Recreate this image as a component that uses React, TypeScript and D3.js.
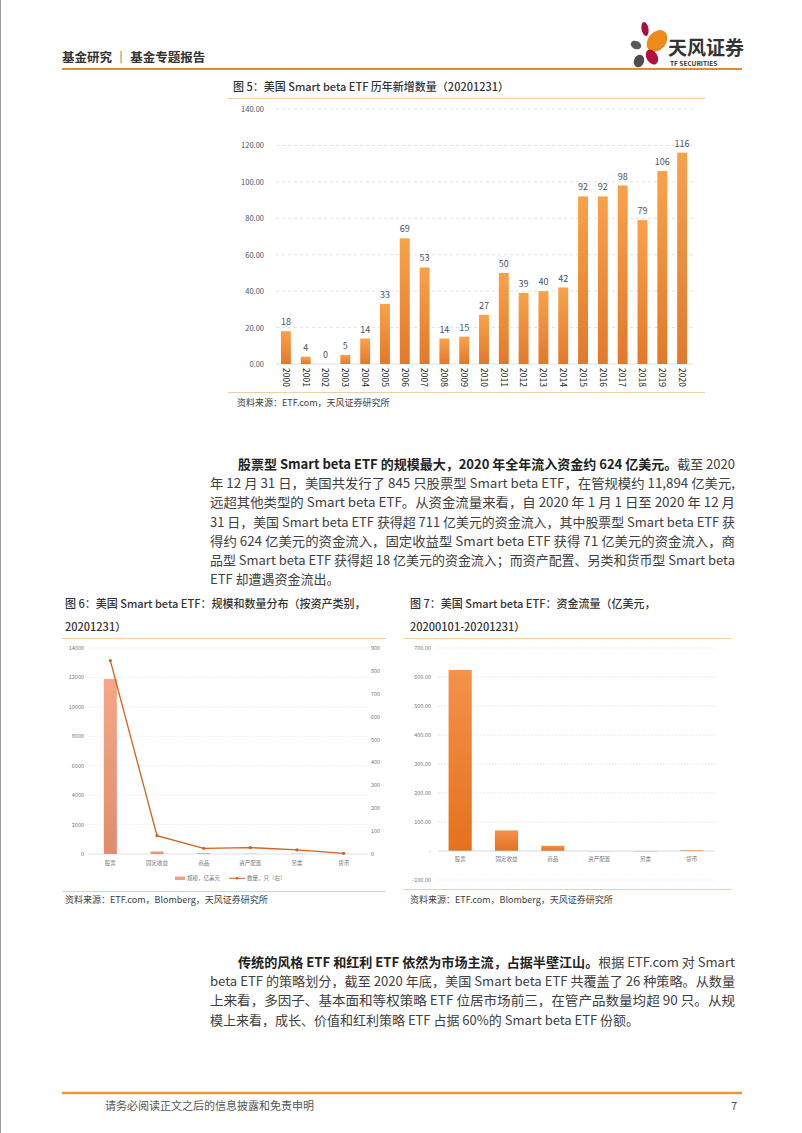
import React from 'react';
import * as d3 from 'd3';

// figure 5: yearly new smart beta ETFs
const years = ['2000','2001','2002','2003','2004','2005','2006','2007','2008','2009','2010','2011','2012','2013','2014','2015','2016','2017','2018','2019','2020'];
const newCounts = [18, 4, 0, 5, 14, 33, 69, 53, 14, 15, 27, 50, 39, 40, 42, 92, 92, 98, 79, 106, 116];
const fig5Ticks = [0, 20, 40, 60, 80, 100, 120, 140];

// figure 6: AUM and count by asset class
const assetClasses = ['股票', '固定收益', '商品', '资产配置', '另类', '货币'];
const aum = [11894, 180, 60, 30, 20, 10];
const fundCount = [845, 80, 25, 28, 18, 3];
const fig6LeftTicks = [0, 2000, 4000, 6000, 8000, 10000, 12000, 14000];
const fig6RightTicks = [0, 100, 200, 300, 400, 500, 600, 700, 800, 900];

// figure 7: fund flows 2020
const flows = [624, 71, 18, -2, -4, 3];
const fig7Ticks = [-100, 0, 100, 200, 300, 400, 500, 600, 700];

const para1 = [
  { indent: true, bold: '股票型 Smart beta ETF 的规模最大，2020 年全年流入资金约 624 亿美元。', rest: '截至 2020' },
  { rest: '年 12 月 31 日，美国共发行了 845 只股票型 Smart  beta  ETF，在管规模约 11,894 亿美元,' },
  { rest: '远超其他类型的 Smart  beta  ETF。从资金流量来看，自 2020 年 1 月 1 日至 2020 年 12 月' },
  { rest: '31 日，美国 Smart beta ETF 获得超 711 亿美元的资金流入，其中股票型 Smart beta ETF 获' },
  { rest: '得约 624 亿美元的资金流入，固定收益型 Smart  beta  ETF 获得 71 亿美元的资金流入，商' },
  { rest: '品型 Smart beta ETF 获得超 18 亿美元的资金流入；而资产配置、另类和货币型 Smart beta' },
  { rest: 'ETF 却遭遇资金流出。', last: true },
];
const para2 = [
  { indent: true, bold: '传统的风格 ETF 和红利 ETF 依然为市场主流，占据半壁江山。', rest: '根据 ETF.com 对 Smart' },
  { rest: 'beta ETF 的策略划分，截至 2020 年底，美国 Smart beta ETF 共覆盖了 26 种策略。从数量' },
  { rest: '上来看，多因子、基本面和等权策略 ETF 位居市场前三，在管产品数量均超 90 只。从规' },
  { rest: '模上来看，成长、价值和红利策略 ETF 占据 60%的 Smart beta ETF 份额。', last: true },
];

const FONT = '"Noto Sans CJK SC", "Noto Sans", sans-serif';
const W = 802, H = 1133;

type Line = { indent?: boolean; bold?: string; rest: string; last?: boolean };

const Paragraph = ({ lines, top }: { lines: Line[]; top: number }) => (
  <g fontFamily={FONT} fontSize={13}>
    {lines.map((l, i) => {
      const x = l.indent ? 238 : 210;
      const props: any = l.last ? {} : { textLength: 735 - x, lengthAdjust: 'spacingAndGlyphs' };
      return (
        <text key={i} x={x} y={top + i * 19.2} fill="#404040" {...props}>
          {l.bold && <tspan fontWeight="bold" fill="#222">{l.bold}</tspan>}
          <tspan>{l.rest}</tspan>
        </text>
      );
    })}
  </g>
);

const Fig5 = () => {
  const x = d3.scaleBand<string>().domain(years).range([276, 692]).paddingInner(0.5).paddingOuter(0.25);
  const y = d3.scaleLinear().domain([0, 140]).range([364, 109]);
  return (
    <g fontFamily={FONT}>
      <defs>
        <linearGradient id="g5" x1="0" y1="0" x2="0" y2="1">
          <stop offset="0" stopColor="#F9A24A" />
          <stop offset="1" stopColor="#E2792A" />
        </linearGradient>
      </defs>
      <text x={233} y={91} fontSize={11} fontWeight="500" fill="#333">图 5：美国 Smart beta ETF 历年新增数量（20201231）</text>
      <line x1={228} x2={705} y1={98.5} y2={98.5} stroke="#F2CDA8" strokeWidth={1} />
      {fig5Ticks.map(t => (
        <g key={t}>
          {t > 0 && <line x1={276} x2={693} y1={y(t)} y2={y(t)} stroke="#D9D9D9" strokeDasharray="3,3" strokeWidth={0.8} />}
          <text x={264} y={y(t) + 3} fontSize={7.5} textAnchor="end" fill="#44546A">{t.toFixed(2)}</text>
        </g>
      ))}
      <line x1={276} x2={693} y1={y(0)} y2={y(0)} stroke="#D9D9D9" strokeWidth={0.8} />
      {years.map((yr, i) => (
        <g key={yr}>
          <rect x={x(yr)} y={y(newCounts[i])} width={x.bandwidth()} height={y(0) - y(newCounts[i])} fill="url(#g5)" />
          <text x={x(yr)! + x.bandwidth() / 2} y={y(newCounts[i]) - 6} fontSize={9} textAnchor="middle" fill="#44546A">{newCounts[i]}</text>
          <text transform={`translate(${x(yr)! + x.bandwidth() / 2 - 3.2},368) rotate(90)`} fontSize={8.6} fill="#222"
            textLength={19} lengthAdjust="spacingAndGlyphs">{yr}</text>
        </g>
      ))}
      <line x1={228} x2={705} y1={392.5} y2={392.5} stroke="#F2CDA8" strokeWidth={1} />
      <text x={237} y={406} fontSize={9} fill="#404040">资料来源：ETF.com，天风证券研究所</text>
    </g>
  );
};

const Fig6 = () => {
  const x = d3.scaleBand<string>().domain(assetClasses).range([87, 367]).paddingInner(0.72).paddingOuter(0.36);
  const yL = d3.scaleLinear().domain([0, 14000]).range([854, 648]);
  const yR = d3.scaleLinear().domain([0, 900]).range([854, 648]);
  const line = d3.line<number>().x((_, i) => x(assetClasses[i])! + x.bandwidth() / 2).y(d => yR(d));
  return (
    <g fontFamily={FONT}>
      <defs>
        <linearGradient id="g6" x1="0" y1="0" x2="0" y2="1">
          <stop offset="0" stopColor="#F4A888" />
          <stop offset="1" stopColor="#E08C6E" />
        </linearGradient>
      </defs>
      <text x={65} y={608} fontSize={11} fontWeight="500" fill="#333">图 6：美国 Smart beta ETF：规模和数量分布（按资产类别，</text>
      <text x={65} y={631} fontSize={11} fontWeight="500" fill="#333">20201231）</text>
      <line x1={62} x2={386} y1={638.5} y2={638.5} stroke="#F2CDA8" strokeWidth={1} />
      {fig6LeftTicks.map(t => (
        <g key={t}>
          {t > 0 && <line x1={88} x2={368} y1={yL(t)} y2={yL(t)} stroke="#E3E3E3" strokeDasharray="1.5,1.5" strokeWidth={0.7} />}
          <text x={84} y={yL(t) + 2} fontSize={5.5} textAnchor="end" fill="#777">{t}</text>
        </g>
      ))}
      {fig6RightTicks.map(t => (
        <text key={t} x={371} y={yR(t) + 2} fontSize={5.5} fill="#777">{t}</text>
      ))}
      <line x1={88} x2={368} y1={yL(0)} y2={yL(0)} stroke="#D6DCE5" strokeWidth={0.8} />
      {assetClasses.map((c, i) => (
        <g key={c}>
          <rect x={x(c)} y={yL(aum[i])} width={x.bandwidth()} height={yL(0) - yL(aum[i])} fill="url(#g6)" />
          <text x={x(c)! + x.bandwidth() / 2} y={865} fontSize={5.5} textAnchor="middle" fill="#777">{c}</text>
        </g>
      ))}
      <path d={line(fundCount)!} fill="none" stroke="#D0611E" strokeWidth={1.3} />
      {fundCount.map((v, i) => (
        <circle key={i} cx={x(assetClasses[i])! + x.bandwidth() / 2} cy={yR(v)} r={1.6} fill="#D0611E" />
      ))}
      <rect x={175} y={876.5} width={10} height={3.5} fill="#F0A282" />
      <text x={187} y={880} fontSize={5.5} fill="#777">规模，亿美元</text>
      <line x1={229} x2={245} y1={878.3} y2={878.3} stroke="#D0611E" strokeWidth={1} />
      <circle cx={237} cy={878.3} r={1.3} fill="#D0611E" />
      <text x={247} y={880} fontSize={5.5} fill="#777">数量，只（右）</text>
      <line x1={62} x2={386} y1={891.5} y2={891.5} stroke="#F2CDA8" strokeWidth={1} />
      <text x={65} y={903} fontSize={9} fill="#404040">资料来源：ETF.com，Blomberg，天风证券研究所</text>
    </g>
  );
};

const Fig7 = () => {
  const x = d3.scaleBand<string>().domain(assetClasses).range([437, 715]).paddingInner(0.5).paddingOuter(0.25);
  const y = d3.scaleLinear().domain([-100, 700]).range([880, 648]);
  return (
    <g fontFamily={FONT}>
      <defs>
        <linearGradient id="g7" x1="0" y1="0" x2="0" y2="1">
          <stop offset="0" stopColor="#F4924A" />
          <stop offset="1" stopColor="#E4711E" />
        </linearGradient>
      </defs>
      <text x={410} y={608} fontSize={11} fontWeight="500" fill="#333">图 7：美国 Smart beta ETF：资金流量（亿美元，</text>
      <text x={410} y={631} fontSize={11} fontWeight="500" fill="#333">20200101-20201231）</text>
      <line x1={403} x2={731} y1={638.5} y2={638.5} stroke="#F2CDA8" strokeWidth={1} />
      {fig7Ticks.map(t => (
        <g key={t}>
          {t !== 0 && <line x1={438} x2={715} y1={y(t)} y2={y(t)} stroke="#DADADA" strokeDasharray="1.5,1.5" strokeWidth={0.7} />}
          <text x={431} y={y(t) + 2} fontSize={5.5} textAnchor="end" fill="#777">{t === 0 ? '-' : t.toFixed(2)}</text>
        </g>
      ))}
      {assetClasses.map((c, i) => (
        <g key={c}>
          <rect x={x(c)} y={y(Math.max(0, flows[i]))} width={x.bandwidth()} height={Math.abs(y(flows[i]) - y(0))}
            fill={flows[i] >= 0 ? 'url(#g7)' : '#D9D9D9'} />
          <text x={x(c)! + x.bandwidth() / 2} y={861} fontSize={5.5} textAnchor="middle" fill="#777">{c}</text>
        </g>
      ))}
      <line x1={438} x2={715} y1={y(0)} y2={y(0)} stroke="#C9D3E0" strokeWidth={0.8} />
      <line x1={403} x2={731} y1={889.5} y2={889.5} stroke="#F2CDA8" strokeWidth={1} />
      <text x={410} y={903} fontSize={9} fill="#404040">资料来源：ETF.com，Blomberg，天风证券研究所</text>
    </g>
  );
};

const Logo = () => (
  <g>
    <ellipse cx={645} cy={29} rx={3.5} ry={7} fill="#A8123A" transform="rotate(-10 645 29)" />
    <ellipse cx={657} cy={41} rx={9} ry={12} fill="#EE8A1C" transform="rotate(40 657 41)" />
    <ellipse cx={636} cy={45} rx={5.5} ry={4} fill="#5A5A5A" transform="rotate(25 636 45)" />
    <ellipse cx={652} cy={57} rx={5.5} ry={8} fill="#B3123E" transform="rotate(-30 652 57)" />
    <ellipse cx={639} cy={61} rx={5} ry={6.5} fill="#4D4D4D" transform="rotate(20 639 61)" />
    <text x={668} y={55} fontFamily={FONT} fontSize={19} fontWeight="bold" fill="#333">天风证券</text>
    <text x={670} y={66} fontFamily={FONT} fontSize={6.5} fontWeight="bold" fill="#333">TF SECURITIES</text>
  </g>
);

export default function App() {
  return (
    <svg width={W} height={H} viewBox={`0 0 ${W} ${H}`} style={{ position: 'absolute', left: 0, top: 0, background: '#fff' }}>
      <rect x={0} y={0} width={W} height={H} fill="#fff" />
      <line x1={0.5} x2={0.5} y1={0} y2={H} stroke="#9A9A9A" strokeWidth={1} />
      <text x={62} y={62} fontFamily={FONT} fontSize={12.5} fontWeight="bold" fill="#333">基金研究 ｜ 基金专题报告</text>
      <Logo />
      <line x1={62} x2={742} y1={69} y2={69} stroke="#E8892E" strokeWidth={2} />
      <Fig5 />
      <Paragraph lines={para1} top={469} />
      <Fig6 />
      <Fig7 />
      <Paragraph lines={para2} top={967} />
      <line x1={62} x2={742} y1={1093} y2={1093} stroke="#E49A3A" strokeWidth={2.5} />
      <text x={105} y={1110} fontFamily={FONT} fontSize={11} fill="#555">请务必阅读正文之后的信息披露和免责申明</text>
      <text x={737} y={1110} fontFamily={FONT} fontSize={11} fill="#555" textAnchor="end">7</text>
    </svg>
  );
}
